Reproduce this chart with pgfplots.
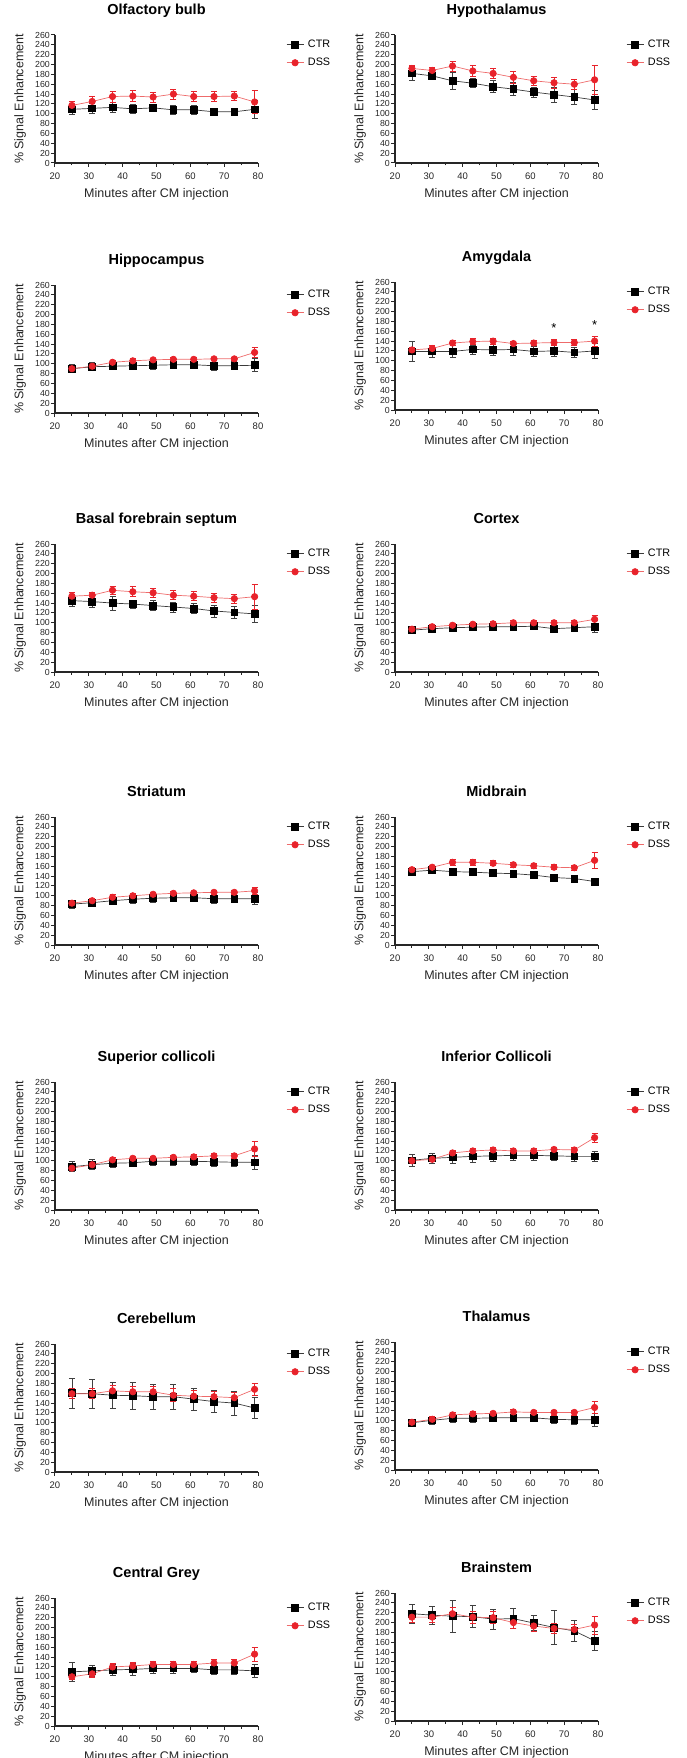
\documentclass[border=0pt]{standalone}
\usepackage{fontspec}
\setmainfont{Liberation Sans}
\usepackage{pgfplots}
\usepackage{pgfplotstable}
\pgfplotsset{compat=1.18}

\definecolor{dssred}{HTML}{E8232B}
\definecolor{dssline}{HTML}{EE6B6B}
\definecolor{ctrline}{HTML}{3A3A3A}

% t = minutes, ctr/ce = CTR mean and error, dss/de = DSS mean and error
\pgfplotstableread{
t ctr ce dss de
25 109 11 117 8
31 111 11 125 10
37 113 10 135 11
43 110 10 136 11
49 112 8 134 10
55 108 10 140 10
61 108 9 135 10
67 104 8 135 10
73 104 8 136 9
79 109 18 124 24
}\tolf
\pgfplotstableread{
t ctr ce dss de
25 182 14 192 7
31 177 8 188 6
37 167 17 197 10
43 162 9 187 11
49 155 12 182 11
55 150 13 174 12
61 144 10 167 10
67 139 15 163 11
73 134 15 160 10
79 128 19 169 29
}\thyp
\pgfplotstableread{
t ctr ce dss de
25 90 8 90 5
31 94 8 95 5
37 95 7 103 4
43 96 7 106 4
49 97 8 108 4
55 98 8 109 4
61 98 8 109 4
67 96 10 110 4
73 96 8 110 4
79 97 13 123 10
}\thip
\pgfplotstableread{
t ctr ce dss de
25 119 20 122 6
31 119 13 125 6
37 119 12 136 5
43 123 9 139 6
49 122 11 140 6
55 123 12 135 5
61 119 10 136 5
67 120 12 137 6
73 117 10 137 6
79 120 15 140 10
}\tamy
\pgfplotstableread{
t ctr ce dss de
25 145 12 154 7
31 143 11 156 6
37 140 14 166 9
43 138 8 163 10
49 135 10 161 9
55 132 10 156 9
61 129 10 154 9
67 124 12 151 9
73 121 12 149 9
79 118 18 153 26
}\tbas
\pgfplotstableread{
t ctr ce dss de
25 85 6 87 4
31 88 6 92 4
37 90 6 95 4
43 91 6 97 4
49 92 6 98 4
55 92 6 100 4
61 93 5 100 4
67 88 7 100 4
73 90 7 100 4
79 92 12 107 9
}\tcor
\pgfplotstableread{
t ctr ce dss de
25 83 8 85 5
31 86 8 90 5
37 90 8 97 5
43 93 8 100 4
49 95 8 103 4
55 96 8 105 4
61 96 8 106 4
67 94 9 107 4
73 94 8 107 4
79 94 12 110 8
}\tstr
\pgfplotstableread{
t ctr ce dss de
25 149 3 153 4
31 152 3 158 4
37 149 3 168 6
43 148 3 168 6
49 146 3 166 5
55 145 3 163 5
61 142 3 161 5
67 137 3 158 5
73 135 3 157 5
79 129 4 172 16
}\tmid
\pgfplotstableread{
t ctr ce dss de
25 88 10 85 5
31 92 10 92 5
37 95 8 102 5
43 96 8 105 5
49 99 8 105 5
55 99 8 107 5
61 99 8 108 5
67 98 10 110 5
73 97 8 110 5
79 97 14 124 15
}\tsup
\pgfplotstableread{
t ctr ce dss de
25 101 12 100 5
31 105 11 103 5
37 107 12 116 6
43 109 12 120 6
49 110 11 122 6
55 111 10 120 5
61 111 10 120 5
67 110 10 123 5
73 109 10 122 5
79 109 11 147 9
}\tinf
\pgfplotstableread{
t ctr ce dss de
25 160 30 159 10
31 159 29 159 10
37 156 27 165 12
43 155 27 163 12
49 153 25 163 10
55 153 25 156 13
61 148 22 154 11
67 143 22 153 10
73 140 24 151 10
79 130 21 168 12
}\tcer
\pgfplotstableread{
t ctr ce dss de
25 96 7 97 5
31 101 9 103 5
37 105 8 112 5
43 105 8 114 5
49 106 8 115 5
55 106 8 118 5
61 106 8 117 5
67 103 9 117 5
73 102 10 117 5
79 102 13 127 12
}\ttha
\pgfplotstableread{
t ctr ce dss de
25 110 20 100 6
31 112 12 106 7
37 114 12 120 8
43 115 12 122 7
49 117 10 125 7
55 117 10 125 7
61 117 8 125 6
67 114 10 128 7
73 114 10 128 7
79 112 13 146 14
}\tcen
\pgfplotstableread{
t ctr ce dss de
25 218 20 211 10
31 215 18 211 11
37 213 33 218 12
43 212 22 211 12
49 207 20 210 12
55 208 20 200 12
61 199 15 193 10
67 190 35 188 10
73 183 22 186 10
79 163 20 195 18
}\tbra

\tikzset{sigstar/.style={font=\fontsize{13}{13}\selectfont}}

\pgfplotsset{
  panel/.style={
    width=203pt, height=128pt, scale only axis,
    anchor=north west, clip=false,
    axis lines=left,
    axis line style={-, line width=1.2pt, black!85},
    xmin=20, xmax=80, ymin=0, ymax=260,
    xtick={20,30,...,80}, minor xtick={25,35,...,75},
    ytick={0,20,...,260},
    tick align=outside, major tick length=4pt, minor tick length=2.5pt,
    every tick/.style={black!85, line width=1pt},
    /pgf/number format/assume math mode=true,
    yticklabel style={font=\fontsize{8.8}{9}\selectfont, inner sep=1pt, black!85},
    xticklabel style={font=\fontsize{9.5}{10}\selectfont, yshift=-2pt, black!85},
    xlabel={Minutes after CM injection},
    ylabel={\% Signal Enhancement},
    xlabel style={at={(axis description cs:0.5,-0.266)}, anchor=base},
    ylabel style={at={(axis description cs:-0.172,0.5)}, anchor=center},
    label style={font=\fontsize{12.5}{13}\selectfont, black!85},
    title style={font=\bfseries\fontsize{14.5}{15}\selectfont,
      at={(axis description cs:0.5,1.117)}, anchor=base},
    legend entries={CTR,DSS},
    legend cell align=left,
    legend style={at={(axis description cs:1,1)}, anchor=north west,
      xshift=28pt, yshift=-3pt, draw=none, fill=none, inner sep=0pt,
      row sep=5pt, font=\fontsize{10.8}{12}\selectfont,
      nodes={inner xsep=4pt}},
  },
  ctr/.style={ctrline, line width=0.7pt, mark=square*, mark size=3.4pt,
    mark options={black, fill=black, solid},
    error bars/.cd, y dir=both, y explicit,
    error bar style={black!75, line width=0.7pt},
    error mark options={rotate=90, mark size=3pt, black!75, line width=0.7pt}},
  dss/.style={dssline, line width=0.7pt, mark=*, mark size=3.2pt,
    mark options={dssred, fill=dssred, solid},
    error bars/.cd, y dir=both, y explicit,
    error bar style={dssred, line width=0.7pt},
    error mark options={rotate=90, mark size=3pt, dssred, line width=0.7pt}},
}

\newcommand{\panel}[5][]{%
  \begin{axis}[panel, at={(#2pt,-#3pt)}, title={#4}]
    \addplot[ctr] table[x=t, y=ctr, y error=ce] {#5};
    \addplot[dss] table[x=t, y=dss, y error=de] {#5};
    #1
  \end{axis}}

\begin{document}
\begin{tikzpicture}
\useasboundingbox (0pt,0pt) rectangle (686pt,-1758pt);

\panel{55}{35}{Olfactory bulb}{\tolf}
\panel{395}{35}{Hypothalamus}{\thyp}

\panel{55}{285}{Hippocampus}{\thip}
\panel[{\node[sigstar] at (axis cs:67,167) {*};
        \node[sigstar] at (axis cs:79,173) {*};}]
  {395}{282}{Amygdala}{\tamy}

\panel{55}{544}{Basal forebrain septum}{\tbas}
\panel{395}{544}{Cortex}{\tcor}

\panel{55}{817}{Striatum}{\tstr}
\panel{395}{817}{Midbrain}{\tmid}

\panel{55}{1082}{Superior collicoli}{\tsup}
\panel{395}{1082}{Inferior Collicoli}{\tinf}

\panel{55}{1344}{Cerebellum}{\tcer}
\panel{395}{1342}{Thalamus}{\ttha}

\panel{55}{1598}{Central Grey}{\tcen}
\panel{395}{1593}{Brainstem}{\tbra}
\end{tikzpicture}
\end{document}
